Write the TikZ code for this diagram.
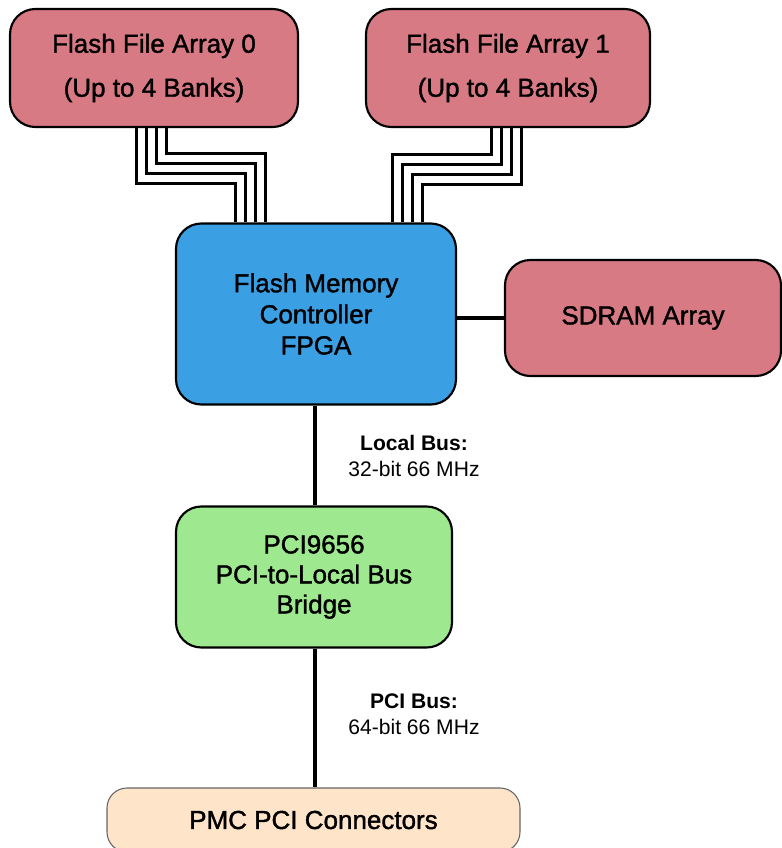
\documentclass[tikz,border=0pt]{standalone}
\usepackage{fontspec}
\setmainfont{Liberation Sans}
\newfontfamily\boxfont[FakeBold=1.4]{Liberation Sans}
\usepackage{tikz}
\usetikzlibrary{positioning, calc}
\definecolor{arraypink}{RGB}{215, 122, 132}
\definecolor{fpgablue}{RGB}{58, 159, 227}
\definecolor{bridgegreen}{RGB}{158, 232, 143}
\definecolor{pmcpeach}{RGB}{254, 228, 200}
\tikzset{
  blockbox/.style={draw=black, line width=1.6pt, rounded corners=19pt, align=center, font=\boxfont\fontsize{19.5}{20}\selectfont, inner sep=0pt},
  busline/.style={line width=2.2pt},
  link/.style={line width=2.6pt},
  buslabel/.style={align=center, font=\fontsize{15.8}{19.5}\selectfont}
}

\begin{document}
\begin{tikzpicture}[x=0.75pt, y=-0.75pt]
  \useasboundingbox (0,0) rectangle (781,848);

  % memory arrays
  \node[blockbox, fill=arraypink, minimum width=288*0.75pt, minimum height=118*0.75pt,
        font=\boxfont\fontsize{19.5}{33}\selectfont] (ffa0) at (154,68) {Flash File Array 0\\(Up to 4 Banks)};
  \node[blockbox, fill=arraypink, minimum width=284*0.75pt, minimum height=118*0.75pt,
        font=\boxfont\fontsize{19.5}{33}\selectfont] (ffa1) at (508,68) {Flash File Array 1\\(Up to 4 Banks)};

  % controller
  \node[blockbox, fill=fpgablue, minimum width=280*0.75pt, minimum height=181*0.75pt,
        font=\boxfont\fontsize{19.5}{23.3}\selectfont] (fpga) at (316,314) {Flash Memory\\Controller\\FPGA};
  \node[blockbox, fill=arraypink, minimum width=276*0.75pt, minimum height=116*0.75pt] (sdram) at (643,318) {SDRAM Array};

  % bridge and connectors
  \node[blockbox, fill=bridgegreen, minimum width=276*0.75pt, minimum height=141*0.75pt,
        font=\boxfont\fontsize{19.5}{22.5}\selectfont] (bridge) at (314,577) {PCI9656\\PCI-to-Local Bus\\Bridge};
  \node[blockbox, draw=black!60, line width=0.8pt, rounded corners=15pt, fill=pmcpeach,
        minimum width=413*0.75pt, minimum height=64*0.75pt] (pmc) at (313.5,820) {PMC PCI Connectors};

  % flash buses
  \foreach \i in {0,...,3} {
    \draw[busline] ($(ffa0.south west)+(128+10*\i,0)$) -- ++(0,55-10*\i) -| ($(fpga.north west)+(61+10*\i,0)$);
    \draw[busline] ($(ffa1.south west)+(127+10*\i,0)$) -- ++(0,26+10*\i) -| ($(fpga.north west)+(218+10*\i,0)$);
  }

  % other links
  \draw[link] (fpga.east |- sdram.west) -- (sdram.west);
  \draw[link] (fpga.south -| 315,0) -- (bridge.north -| 315,0);
  \draw[link] (bridge.south -| 315,0) -- (pmc.north -| 315,0);

  \node[buslabel] (localbus) at (414,456) {\textbf{Local Bus:}\\32-bit 66 MHz};
  \node[buslabel] (pcibus) at (414,714) {\textbf{PCI Bus:}\\64-bit 66 MHz};
\end{tikzpicture}
\end{document}
